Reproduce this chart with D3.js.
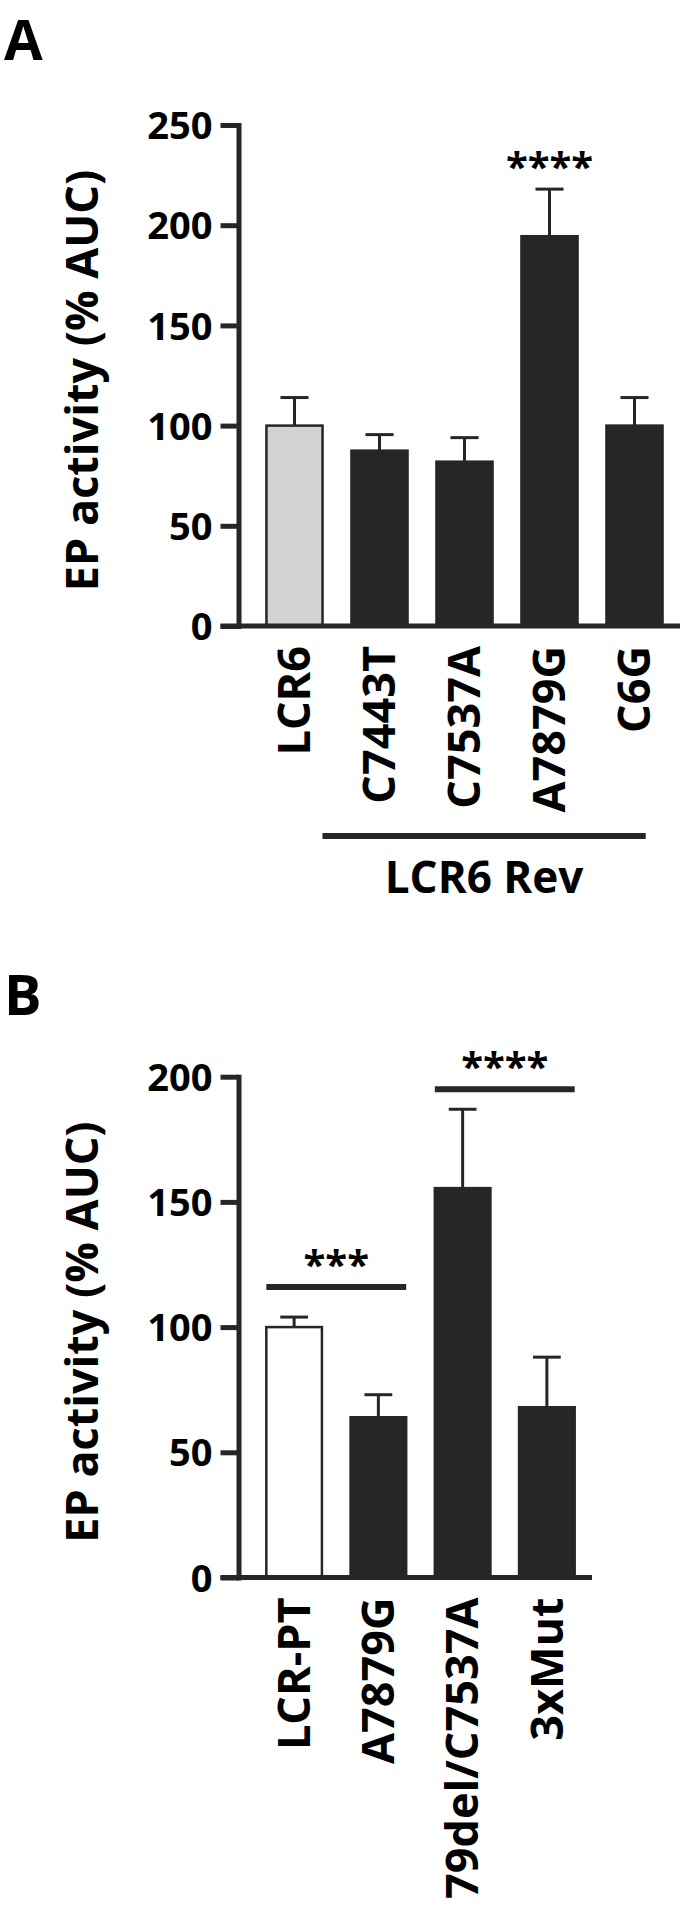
<!DOCTYPE html>
<html>
<head>
<meta charset="utf-8">
<script src="https://cdn.jsdelivr.net/npm/d3@7"></script>
<style>
  body { margin: 0; background: #fff; }
  svg { display: block; font-family: 'Open Sans', sans-serif; font-weight: 700; }
</style>
</head>
<body>
<svg width="685" height="1912"></svg>
<script>
// panel A
const categoriesA = ['LCR6', 'C7443T', 'C7537A', 'A7879G', 'C6G']
const meansA = [100, 87.5, 82, 194.5, 100]
const errorsA = [14, 8, 12, 23.5, 14]
const fillsA = ['#d3d3d3', '#262626', '#262626', '#262626', '#262626']
const ticksA = [0, 50, 100, 150, 200, 250]
const starsA = ['', '', '', '****', '']

// panel B
const categoriesB = ['LCR-PT', 'A7879G', '79del/C7537A', '3xMut']
const meansB = [100, 64, 155.5, 68]
const errorsB = [4, 9, 31.5, 20]
const fillsB = ['#ffffff', '#262626', '#262626', '#262626']
const ticksB = [0, 50, 100, 150, 200]
const sigFromB = [0, 2]
const sigToB = [1, 3]
const sigLevelB = [116, 195]
const sigLabelB = ['***', '****']

const yLabel = 'EP activity (% AUC)'
const ink = '#262626'

const svg = d3.select('svg')

const drawPanel = (opts) => {
  const { letter, letterY, cats, means, errs, fills, ticks, yTop, y0, y1, xEnd } = opts
  const axisX = 238.5
  const g = svg.append('g')

  const x = d3.scaleBand()
    .domain(cats)
    .range([252, xEnd])
    .paddingInner(0.34)
    .paddingOuter(0.17)

  const y = d3.scaleLinear()
    .domain([0, yTop])
    .range([y0, y1])

  // panel letter
  g.append('text')
    .attr('x', 4)
    .attr('y', letterY)
    .attr('font-size', 56)
    .text(letter)

  // bars
  g.selectAll('rect.bar')
    .data(cats)
    .join('rect')
    .attr('class', 'bar')
    .attr('x', (d) => x(d))
    .attr('width', x.bandwidth())
    .attr('y', (d, i) => y(means[i]))
    .attr('height', (d, i) => y(0) - y(means[i]))
    .attr('fill', (d, i) => fills[i])
    .attr('stroke', ink)
    .attr('stroke-width', 2.5)

  // upper error bars
  const err = g.selectAll('g.err')
    .data(cats)
    .join('g')
    .attr('class', 'err')
    .attr('stroke', ink)
    .attr('stroke-width', 3)
  err.append('line')
    .attr('x1', (d) => x(d) + x.bandwidth() / 2)
    .attr('x2', (d) => x(d) + x.bandwidth() / 2)
    .attr('y1', (d, i) => y(means[i]))
    .attr('y2', (d, i) => y(means[i] + errs[i]))
  err.append('line')
    .attr('x1', (d) => x(d) + x.bandwidth() / 4)
    .attr('x2', (d) => x(d) + x.bandwidth() * 3 / 4)
    .attr('y1', (d, i) => y(means[i] + errs[i]))
    .attr('y2', (d, i) => y(means[i] + errs[i]))

  // y axis
  const yAxis = g.append('g')
    .attr('transform', `translate(${axisX},0)`)
    .call(d3.axisLeft(y).tickValues(ticks).tickSize(18).tickSizeOuter(0).tickPadding(8))
  yAxis.select('.domain')
    .attr('stroke', ink)
    .attr('stroke-width', 5)
    .attr('stroke-linecap', 'square')
  yAxis.selectAll('.tick line')
    .attr('stroke', ink)
    .attr('stroke-width', 5)
  yAxis.selectAll('.tick text')
    .attr('font-family', "'Open Sans', sans-serif")
    .attr('font-weight', 700)
    .attr('font-size', 38)
    .attr('fill', '#000')
    .attr('dy', '0.36em')

  // x axis line
  g.append('line')
    .attr('x1', axisX - 18)
    .attr('x2', xEnd + 3)
    .attr('y1', y(0))
    .attr('y2', y(0))
    .attr('stroke', ink)
    .attr('stroke-width', 5)

  // category labels
  g.selectAll('text.cat')
    .data(cats)
    .join('text')
    .attr('class', 'cat')
    .attr('transform', (d) => `translate(${x(d) + x.bandwidth() / 2},${y(0) + 20}) rotate(-90)`)
    .attr('dy', '0.35em')
    .attr('text-anchor', 'end')
    .attr('font-size', 45)
    .text((d) => d)

  // y label
  g.append('text')
    .attr('transform', `translate(98,${(y(0) + y(yTop)) / 2 + 5}) rotate(-90)`)
    .attr('text-anchor', 'middle')
    .attr('font-size', 45)
    .text(yLabel)

  return { g, x, y }
}

const A = drawPanel({
  letter: 'A', letterY: 60, cats: categoriesA, means: meansA, errs: errorsA,
  fills: fillsA, ticks: ticksA, yTop: 250, y0: 626, y1: 125, xEnd: 677
})

A.g.selectAll('text.star')
  .data(categoriesA)
  .join('text')
  .attr('class', 'star')
  .attr('x', (d) => A.x(d) + A.x.bandwidth() / 2)
  .attr('y', (d, i) => A.y(meansA[i] + errorsA[i]) - 8)
  .attr('text-anchor', 'middle')
  .attr('font-size', 40)
  .text((d, i) => starsA[i])

// LCR6 Rev bracket
const revStart = A.x('C7443T') - 29
const revEnd = A.x('C6G') + A.x.bandwidth() * 0.7
A.g.append('line')
  .attr('x1', revStart)
  .attr('x2', revEnd)
  .attr('y1', 836)
  .attr('y2', 836)
  .attr('stroke', ink)
  .attr('stroke-width', 6)
A.g.append('text')
  .attr('x', (revStart + revEnd) / 2)
  .attr('y', 893)
  .attr('text-anchor', 'middle')
  .attr('font-size', 44)
  .text('LCR6 Rev')

const B = drawPanel({
  letter: 'B', letterY: 1015, cats: categoriesB, means: meansB, errs: errorsB,
  fills: fillsB, ticks: ticksB, yTop: 200, y0: 1577.5, y1: 1076.7, xEnd: 589
})

sigLabelB.forEach((label, i) => {
  const x1 = B.x(categoriesB[sigFromB[i]])
  const x2 = B.x(categoriesB[sigToB[i]]) + B.x.bandwidth()
  const ly = B.y(sigLevelB[i])
  B.g.append('line')
    .attr('x1', x1)
    .attr('x2', x2)
    .attr('y1', ly)
    .attr('y2', ly)
    .attr('stroke', ink)
    .attr('stroke-width', 6)
  B.g.append('text')
    .attr('x', (x1 + x2) / 2)
    .attr('y', ly - 8)
    .attr('text-anchor', 'middle')
    .attr('font-size', 40)
    .text(label)
})
</script>
</body>
</html>
